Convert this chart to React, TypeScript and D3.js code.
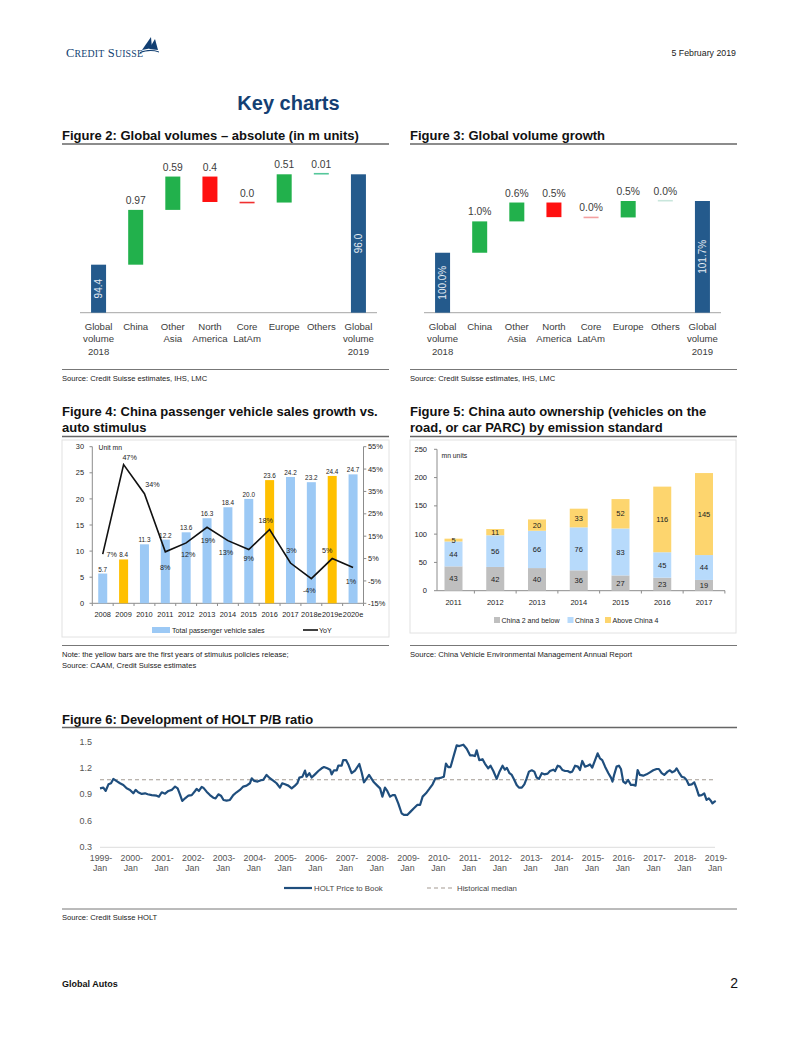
import React from "react";
import * as d3 from "d3";

// ---------- DATA ----------
const fig2Labels = [["Global", "volume", "2018"], ["China"], ["Other", "Asia"], ["North", "America"], ["Core", "LatAm"], ["Europe"], ["Others"], ["Global", "volume", "2019"]];
const fig2Values = [94.4, 0.97, 0.59, -0.45, -0.01, 0.5, 0.01, 96.0];
const fig2Text = ["94.4", "0.97", "0.59", "0.4", "0.0", "0.51", "0.01", "96.0"];

const fig3Values = [100.0, 1.03, 0.62, -0.48, -0.01, 0.54, 0.01, 101.7];
const fig3Text = ["100.0%", "1.0%", "0.6%", "0.5%", "0.0%", "0.5%", "0.0%", "101.7%"];

const fig4Years = ["2008", "2009", "2010", "2011", "2012", "2013", "2014", "2015", "2016", "2017", "2018e", "2019e", "2020e"];
const fig4Sales = [5.7, 8.4, 11.3, 12.2, 13.6, 16.3, 18.4, 20.0, 23.6, 24.2, 23.2, 24.4, 24.7];
const fig4SalesText = ["5.7", "8.4", "11.3", "12.2", "13.6", "16.3", "18.4", "20.0", "23.6", "24.2", "23.2", "24.4", "24.7"];
const fig4Yoy = [7, 47, 34, 8, 12, 19, 13, 9, 18, 3, -4, 5, 1];
const fig4StimulusYears = ["2009", "2016", "2019e"];
const fig4LeftTicks = [0, 5, 10, 15, 20, 25, 30];
const fig4RightTicks = [-15, -5, 5, 15, 25, 35, 45, 55];

const fig5Years = ["2011", "2012", "2013", "2014", "2015", "2016", "2017"];
const fig5China2 = [43, 42, 40, 36, 27, 23, 19];
const fig5China3 = [44, 56, 66, 76, 83, 45, 44];
const fig5China4 = [5, 11, 20, 33, 52, 116, 145];
const fig5Series = ["China 2 and below", "China 3", "Above China 4"];
const fig5Ticks = [0, 50, 100, 150, 200, 250];

const fig6Years = ["1999", "2000", "2001", "2002", "2003", "2004", "2005", "2006", "2007", "2008", "2009", "2010", "2011", "2012", "2013", "2014", "2015", "2016", "2017", "2018", "2019"];
const fig6Ticks = [0.3, 0.6, 0.9, 1.2, 1.5];
const holtMedian = 1.065;
// months since 1999-Jan
const holtMonth = [0, 1.3, 2.2, 3.3, 4.3, 5.2, 6.5, 7.8, 9.1, 10.4, 11.7, 13, 13.9, 14.9, 16.3, 17.6, 18.6, 20.2, 22.1, 23, 24.1, 25.4, 26.7, 28, 29.3, 30.3, 31.2, 32.1, 33.2, 34.5, 35.8, 37.1, 37.7, 38.6, 39.7, 40.3, 41.6, 42.9, 44.2, 45.1, 46.2, 47.2, 48.2, 49.4, 50.7, 52, 53.3, 54.6, 55.9, 57.2, 58.5, 59.2, 60.2, 61.5, 62.8, 63.7, 65, 66.3, 67.6, 68.9, 70.2, 71.1, 72.2, 73.5, 74.8, 76.1, 77, 77.8, 79, 80, 80.6, 81.7, 82.6, 83.9, 85.2, 86.5, 87.4, 88.7, 89.8, 90.4, 91.3, 92.4, 93, 94.3, 94.9, 96, 96.9, 98.2, 99.5, 101.2, 102.1, 103, 104.1, 105, 106, 106.9, 108.2, 109.3, 110.2, 111.2, 112.1, 113.2, 114.2, 115.1, 116.4, 117.7, 118.6, 119.9, 121.2, 122.5, 123.8, 124.9, 125.9, 127.2, 128.5, 129.8, 130.9, 132, 133.3, 134.2, 135, 135.9, 136.8, 137.9, 139.2, 140.2, 141.8, 143.1, 144.4, 145.4, 146.3, 147, 148, 149.3, 150.2, 151.5, 152.4, 153.5, 154.8, 155.8, 157.1, 158, 158.8, 159.8, 160.7, 161.7, 162.6, 163.5, 164.6, 165.6, 166.5, 167.4, 168.5, 169.5, 170.4, 171.3, 172.4, 173.4, 174.7, 175.6, 176.9, 177.6, 178.6, 179.5, 180.5, 181.5, 182.5, 183.4, 184.3, 185.4, 186.5, 187.3, 188.2, 189.3, 190.3, 191.2, 192.1, 193.2, 194.2, 195.1, 196, 197.1, 198.4, 199.4, 200, 200.7, 201.6, 202.5, 203.3, 204.2, 205.1, 206.1, 207.2, 208.1, 209, 209.8, 210.7, 212, 213.3, 214.6, 215.9, 217.2, 218.1, 219.2, 220.2, 221.5, 222.4, 223.3, 224.3, 225, 225.9, 227, 228, 228.9, 229.8, 230.9, 231.9, 232.8, 233.7, 234.8, 235.8, 236.7, 237.6, 238.4, 239, 239.8, 240.3];
const holtPB = [0.967, 0.975, 0.937, 1.013, 1.025, 1.075, 1.05, 1.025, 1.006, 0.967, 0.949, 0.91, 0.949, 0.922, 0.903, 0.91, 0.899, 0.89, 0.883, 0.872, 0.922, 0.906, 0.937, 0.949, 0.987, 0.967, 0.899, 0.823, 0.853, 0.883, 0.89, 0.937, 0.96, 0.937, 0.983, 0.975, 0.929, 0.89, 0.86, 0.853, 0.899, 0.883, 0.834, 0.826, 0.834, 0.89, 0.922, 0.949, 0.987, 0.998, 1.025, 1.082, 1.052, 1.044, 1.06, 1.063, 1.12, 1.082, 1.056, 1.025, 0.975, 1.025, 1.013, 0.998, 0.967, 0.998, 1.025, 1.09, 1.1, 1.17, 1.1, 1.14, 1.09, 1.127, 1.165, 1.196, 1.21, 1.196, 1.18, 1.127, 1.173, 1.173, 1.226, 1.226, 1.29, 1.29, 1.24, 1.14, 1.17, 1.245, 1.15, 1.036, 1.082, 1.12, 1.075, 1.036, 0.998, 0.967, 0.872, 0.975, 0.937, 0.872, 0.89, 0.89, 0.796, 0.682, 0.663, 0.663, 0.701, 0.739, 0.777, 0.777, 0.872, 0.91, 0.96, 1.013, 1.082, 1.082, 1.09, 1.1, 1.25, 1.21, 1.21, 1.325, 1.458, 1.45, 1.466, 1.42, 1.344, 1.344, 1.336, 1.401, 1.29, 1.3, 1.25, 1.196, 1.226, 1.165, 1.075, 1.15, 1.226, 1.18, 1.2, 1.14, 1.12, 1.063, 1.006, 0.975, 0.975, 1.013, 1.082, 1.158, 1.173, 1.158, 1.09, 1.075, 1.14, 1.127, 1.135, 1.165, 1.18, 1.165, 1.226, 1.215, 1.176, 1.165, 1.165, 1.15, 1.158, 1.226, 1.215, 1.176, 1.28, 1.215, 1.226, 1.24, 1.203, 1.29, 1.367, 1.31, 1.29, 1.215, 1.14, 1.09, 1.044, 1.127, 1.215, 1.226, 1.188, 1.044, 1.025, 1.063, 1.006, 1.006, 0.998, 1.176, 1.12, 1.112, 1.127, 1.15, 1.173, 1.188, 1.188, 1.14, 1.12, 1.158, 1.173, 1.15, 1.165, 1.196, 1.15, 1.1, 1.09, 1.063, 1.006, 1.013, 1.036, 0.967, 0.883, 0.89, 0.91, 0.834, 0.853, 0.823, 0.796, 0.815, 0.823];

// ---------- STYLE ----------
const SANS = "'Liberation Sans', Arial, Helvetica, sans-serif";
const BLUE = "#245a8c";
const GREEN = "#22b14c";
const RED = "#ff1010";
const TXT = "#3c3c3c";

function Waterfall({ x0, x1, yDomain, yRange, values, texts, labels, faint }: any) {
  const x = d3.scaleBand().domain(labels.map((_: any, i: number) => String(i))).range([x0, x1]);
  const y = d3.scaleLinear().domain(yDomain).range(yRange);
  const bw = 15;
  const base = yDomain[0];
  let run = 0;
  const items = values.map((v: number, i: number) => {
    const cx = (x(String(i)) as number) + x.bandwidth() / 2;
    if (i === 0 || i === values.length - 1) {
      run = v;
      return { cx, kind: "total", y0: y(base), y1: y(v), v };
    }
    const s = run;
    run = run + v;
    return { cx, kind: Math.abs(v) < 0.05 ? "line" : "step", y0: y(s), y1: y(run), v };
  });
  return (
    <g>
      <line x1={x0} x2={x1} y1={yRange[0]} y2={yRange[0]} stroke="#a6a6a6" strokeWidth={1} />
      {items.map((d: any, i: number) => {
        const top = Math.min(d.y0, d.y1);
        const bot = Math.max(d.y0, d.y1);
        let mark;
        if (d.kind === "total") {
          mark = (
            <g>
              <rect x={d.cx - bw / 2} y={top} width={bw} height={bot - top} fill={BLUE} />
              <text transform={`translate(${d.cx + 3.5},${(top + bot) / 2}) rotate(-90)`} textAnchor="middle" fontSize={10} fill="#e4ebf3">{texts[i]}</text>
            </g>
          );
        } else if (d.kind === "line") {
          const col = d.v < 0 ? (faint ? "#f3a0a0" : "#f03030") : (faint ? "#c9e6dc" : "#55c79a");
          mark = <rect x={d.cx - bw / 2} y={d.y1 - 0.8} width={bw} height={1.6} fill={col} />;
        } else {
          mark = <rect x={d.cx - bw / 2} y={top} width={bw} height={bot - top} fill={d.v < 0 ? RED : GREEN} />;
        }
        const labelY = d.kind === "line" ? d.y1 - 6 : top - 6;
        return (
          <g key={i}>
            {mark}
            {d.kind !== "total" && (
              <text x={d.cx} y={labelY} textAnchor="middle" fontSize={10.3} fill={TXT}>{texts[i]}</text>
            )}
            {labels[i].map((l: string, j: number) => (
              <text key={j} x={d.cx} y={330 + j * 12.3} textAnchor="middle" fontSize={9.6} fill={TXT}>{l}</text>
            ))}
          </g>
        );
      })}
    </g>
  );
}

function Fig4() {
  const x = d3.scaleBand().domain(fig4Years).range([92.3, 363.5]);
  const yL = d3.scaleLinear().domain([0, 30]).range([603.3, 446.7]);
  const yR = d3.scaleLinear().domain([-15, 55]).range([603.3, 446.7]);
  const cx = (k: string) => (x(k) as number) + x.bandwidth() / 2;
  const line = d3.line<number>().x((_, i) => cx(fig4Years[i])).y((d) => yR(d));
  // label offsets (dx, dy of baseline) relative to point
  const off = [[9, 2.5], [6, -5], [8, -7], [0, 18], [2, 14], [1, 16], [-2, 14], [0, 11.5], [-4, -6], [1, -10], [-2, 14], [-5, -6], [-2, 16]];
  return (
    <g fontSize={7.4} fill="#222">
      <rect x={62} y={440} width={327} height={197} fill="none" stroke="#e2e2e2" />
      <line x1={92.3} x2={92.3} y1={446.7} y2={603.3} stroke="#8c8c8c" />
      <line x1={363.5} x2={363.5} y1={446.7} y2={603.3} stroke="#8c8c8c" />
      <line x1={92.3} x2={363.5} y1={603.3} y2={603.3} stroke="#8c8c8c" />
      {fig4LeftTicks.map((t) => (
        <g key={t}>
          <line x1={89.5} x2={92.3} y1={yL(t)} y2={yL(t)} stroke="#8c8c8c" />
          <text x={84} y={yL(t) + 2.6} textAnchor="end">{t}</text>
        </g>
      ))}
      {fig4RightTicks.map((t) => (
        <g key={t}>
          <line x1={363.5} x2={366.3} y1={yR(t)} y2={yR(t)} stroke="#8c8c8c" />
          <text x={368} y={yR(t) + 2.6}>{t}%</text>
        </g>
      ))}
      {fig4Years.map((k) => (
        <line key={k} x1={x(k) as number} x2={x(k) as number} y1={603.3} y2={606} stroke="#8c8c8c" />
      ))}
      <line x1={363.5} x2={363.5} y1={603.3} y2={606} stroke="#8c8c8c" />
      {fig4Years.map((k, i) => (
        <g key={k}>
          <rect x={cx(k) - 4.5} y={yL(fig4Sales[i])} width={9} height={603.3 - yL(fig4Sales[i])} fill={fig4StimulusYears.includes(k) ? "#ffc000" : "#9cc9f5"} />
          <text x={cx(k)} y={yL(fig4Sales[i]) - 2} textAnchor="middle" fontSize={6.4}>{fig4SalesText[i]}</text>
          <text x={cx(k)} y={617} textAnchor="middle">{k}</text>
        </g>
      ))}
      <path d={line(fig4Yoy) as string} fill="none" stroke="#111" strokeWidth={1.6} />
      {fig4Yoy.map((v, i) => (
        <text key={i} x={cx(fig4Years[i]) + off[i][0]} y={yR(v) + off[i][1]} textAnchor="middle" fontSize={7.2}>{v}%</text>
      ))}
      <text x={98.5} y={449.5} fontSize={6.8}>Unit mn</text>
      <rect x={152} y={627} width={18} height={6} fill="#9cc9f5" />
      <text x={172} y={632.5} fontSize={7.1}>Total passenger vehicle sales</text>
      <line x1={303} x2={318} y1={630} y2={630} stroke="#111" strokeWidth={1.6} />
      <text x={319} y={632.5} fontSize={7.1}>YoY</text>
    </g>
  );
}

function Fig5() {
  const x = d3.scalePoint().domain(fig5Years).range([453.5, 704]);
  const y = d3.scaleLinear().domain([0, 250]).range([590.7, 449.3]);
  const stack = d3.stack<any>().keys(["a", "b", "c"])(fig5Years.map((k, i) => ({ a: fig5China2[i], b: fig5China3[i], c: fig5China4[i] })));
  const cols = ["#bfbfbf", "#b7dafb", "#fdd56e"];
  const bw = 18;
  const step = x.step();
  return (
    <g fontSize={7.5} fill="#222">
      <rect x={410} y={440} width={326} height={193} fill="none" stroke="#e2e2e2" />
      <line x1={437} x2={437} y1={449.3} y2={590.7} stroke="#8c8c8c" />
      <line x1={437} x2={725} y1={590.7} y2={590.7} stroke="#8c8c8c" />
      {fig5Ticks.map((t) => (
        <g key={t}>
          <line x1={434} x2={437} y1={y(t)} y2={y(t)} stroke="#8c8c8c" />
          <text x={427} y={y(t) + 2.6} textAnchor="end">{t}</text>
        </g>
      ))}
      {fig5Years.map((k) => (
        <line key={k} x1={(x(k) as number) + step / 2} x2={(x(k) as number) + step / 2} y1={590.7} y2={593.5} stroke="#8c8c8c" />
      ))}
      {stack.map((s, si) => (
        <g key={si}>
          {s.map((d, i) => (
            <g key={i}>
              <rect x={(x(fig5Years[i]) as number) - bw / 2} y={y(d[1])} width={bw} height={y(d[0]) - y(d[1])} fill={cols[si]} />
              <text x={x(fig5Years[i]) as number} y={(y(d[0]) + y(d[1])) / 2 + 2.7} textAnchor="middle">{d[1] - d[0]}</text>
            </g>
          ))}
        </g>
      ))}
      {fig5Years.map((k) => (
        <text key={k} x={x(k) as number} y={604.5} textAnchor="middle">{k}</text>
      ))}
      <text x={441.5} y={457.5} fontSize={6.8}>mn units</text>
      {[494, 567.5, 605].map((lx, i) => (
        <g key={i}>
          <rect x={lx} y={617} width={6} height={6} fill={cols[i]} />
          <text x={lx + 7.5} y={622.8} fontSize={7}>{fig5Series[i]}</text>
        </g>
      ))}
    </g>
  );
}

function Fig6() {
  const x = d3.scaleLinear().domain([0, 240]).range([100, 715]);
  const y = d3.scaleLinear().domain([0.3, 1.5]).range([846.7, 741.7]);
  const line = d3.line<number>().x((_, i) => x(holtMonth[i])).y((d) => y(d));
  return (
    <g fill="#555">
      <line x1={100} x2={715} y1={847.3} y2={847.3} stroke="#e3e3e3" strokeWidth={1.2} />
      {fig6Ticks.map((t) => (
        <text key={t} x={92} y={y(t) + 3.2} textAnchor="end" fontSize={9}>{t.toFixed(1)}</text>
      ))}
      {fig6Years.map((yr, i) => (
        <g key={yr}>
          <text x={x(i * 12) + 1} y={860.5} textAnchor="middle" fontSize={8.8}>{yr}-</text>
          <text x={x(i * 12)} y={870.5} textAnchor="middle" fontSize={8.8}>Jan</text>
        </g>
      ))}
      <line x1={100} x2={716} y1={y(holtMedian)} y2={y(holtMedian)} stroke="#a39a92" strokeWidth={1.1} strokeDasharray="4,3" />
      <path d={line(holtPB) as string} fill="none" stroke="#1f4e7d" strokeWidth={2.2} strokeLinejoin="round" />
      <line x1={284} x2={312} y1={888} y2={888} stroke="#1f4e7d" strokeWidth={2.2} />
      <text x={314} y={891} fontSize={7.8} fill="#444">HOLT Price to Book</text>
      <line x1={427} x2={455} y1={888} y2={888} stroke="#a39a92" strokeWidth={1.1} strokeDasharray="4,3" />
      <text x={457} y={891} fontSize={7.8} fill="#444">Historical median</text>
    </g>
  );
}

export default function App() {
  const W = 802, H = 1037;
  const titleProps = { fontSize: 13, fontWeight: 700, fill: "#111" } as any;
  const srcProps = { fontSize: 7.6, fill: "#222" } as any;
  return (
    <svg width={W} height={H} style={{ position: "absolute", left: 0, top: 0 }} fontFamily={SANS}>
      <rect width={W} height={H} fill="#fff" />
      {/* header */}
      <g fill="#123f72">
        <text x={66} y={57} fontFamily="'Liberation Serif', 'DejaVu Serif', serif" letterSpacing={0.2}>
          <tspan fontSize={12.5}>C</tspan><tspan fontSize={9.8}>REDIT</tspan><tspan fontSize={12.5}> S</tspan><tspan fontSize={9.8}>UISSE</tspan>
        </text>
        <path d="M142,50 L151,37 L152,48 Z" />
        <path d="M149,49 L155,39 L158,50 Z" />
        <path d="M140,52 C147,49.5 153,49.5 159,51.5 L159,52.5 C153,50.5 147,50.5 140,53.2 Z" />
      </g>
      <text x={736} y={56} textAnchor="end" fontSize={8.8} fill="#222">5 February 2019</text>
      <text x={288.5} y={110} textAnchor="middle" fontSize={20} fontWeight={700} fill="#143f73">Key charts</text>

      {/* Figure 2 & 3 */}
      <text x={62} y={140} {...titleProps}>Figure 2: Global volumes – absolute (in m units)</text>
      <line x1={62} x2={389} y1={144} y2={144} stroke="#666" strokeWidth={1.5} />
      <text x={410} y={140} {...titleProps}>Figure 3: Global volume growth</text>
      <line x1={410} x2={737} y1={144} y2={144} stroke="#666" strokeWidth={1.5} />
      <Waterfall x0={80} x1={377} yDomain={[93.55, 96.0]} yRange={[312.7, 174.3]} values={fig2Values} texts={fig2Text} labels={fig2Labels} faint={false} />
      <Waterfall x0={424} x1={721} yDomain={[98.03, 101.7]} yRange={[312.7, 201]} values={fig3Values} texts={fig3Text} labels={fig2Labels} faint={true} />
      <line x1={62} x2={389} y1={369.5} y2={369.5} stroke="#777" strokeWidth={1} />
      <line x1={410} x2={737} y1={369.5} y2={369.5} stroke="#777" strokeWidth={1} />
      <text x={62} y={380.5} {...srcProps}>Source: Credit Suisse estimates, IHS, LMC</text>
      <text x={410} y={380.5} {...srcProps}>Source: Credit Suisse estimates, IHS, LMC</text>

      {/* Figure 4 & 5 */}
      <text x={62} y={416} {...titleProps}>Figure 4: China passenger vehicle sales growth vs.</text>
      <text x={62} y={432} {...titleProps}>auto stimulus</text>
      <line x1={62} x2={389} y1={436.5} y2={436.5} stroke="#666" strokeWidth={1.5} />
      <text x={410} y={416} {...titleProps}>Figure 5: China auto ownership (vehicles on the</text>
      <text x={410} y={432} {...titleProps}>road, or car PARC) by emission standard</text>
      <line x1={410} x2={737} y1={436.5} y2={436.5} stroke="#666" strokeWidth={1.5} />
      <Fig4 />
      <Fig5 />
      <line x1={62} x2={389} y1={645.5} y2={645.5} stroke="#777" strokeWidth={1} />
      <line x1={410} x2={737} y1={645.5} y2={645.5} stroke="#777" strokeWidth={1} />
      <text x={62} y={656.5} {...srcProps}>Note: the yellow bars are the first years of stimulus policies release;</text>
      <text x={62} y={667.5} {...srcProps}>Source: CAAM, Credit Suisse estimates</text>
      <text x={410} y={656.5} {...srcProps}>Source: China Vehicle Environmental Management Annual Report</text>

      {/* Figure 6 */}
      <text x={62} y={723.5} {...titleProps}>Figure 6: Development of HOLT P/B ratio</text>
      <line x1={62} x2={737} y1={727.5} y2={727.5} stroke="#666" strokeWidth={1.5} />
      <Fig6 />
      <line x1={62} x2={737} y1={909} y2={909} stroke="#777" strokeWidth={1} />
      <text x={62} y={919.5} {...srcProps}>Source: Credit Suisse HOLT</text>

      {/* footer */}
      <text x={62} y={987} fontSize={9} fontWeight={700} fill="#111">Global Autos</text>
      <text x={738} y={988} textAnchor="end" fontSize={14} fill="#111">2</text>
    </svg>
  );
}
